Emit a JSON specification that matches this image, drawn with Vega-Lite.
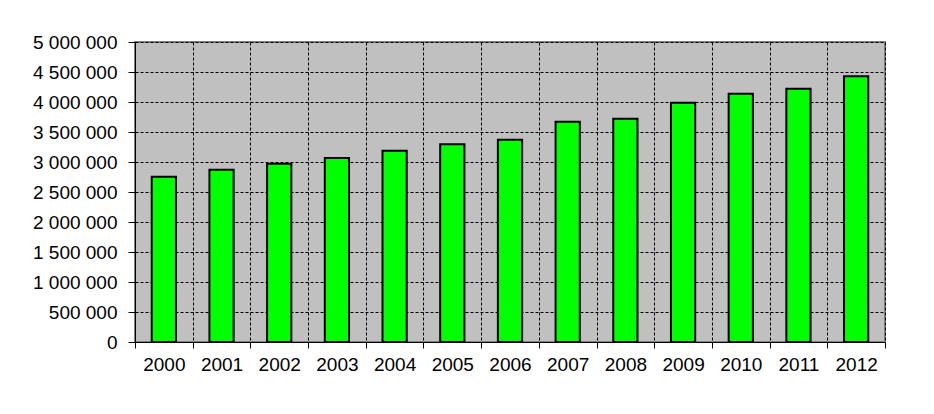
{
  "$schema": "https://vega.github.io/schema/vega-lite/v6.json",
  "width": 750,
  "height": 300,
  "autosize": {"type": "none"},
  "padding": {"left": 135, "top": 42, "right": 49, "bottom": 72},
  "background": "white",
  "config": {
    "font": "Liberation Sans",
    "locale": {"number": {"decimal": ",", "thousands": " ", "grouping": [3], "currency": ["", ""]}},
    "view": {"fill": "#C0C0C0", "stroke": "#808080", "strokeWidth": 2}
  },
  "data": {
    "values": [
      {"year": "2000", "value": 2755000},
      {"year": "2001", "value": 2872000},
      {"year": "2002", "value": 2972000},
      {"year": "2003", "value": 3068000},
      {"year": "2004", "value": 3189000},
      {"year": "2005", "value": 3294000},
      {"year": "2006", "value": 3372000},
      {"year": "2007", "value": 3672000},
      {"year": "2008", "value": 3722000},
      {"year": "2009", "value": 3989000},
      {"year": "2010", "value": 4139000},
      {"year": "2011", "value": 4222000},
      {"year": "2012", "value": 4428000}
    ]
  },
  "mark": {"type": "bar", "color": "#00FF00", "stroke": "black", "strokeWidth": 2, "width": {"band": 0.42}},
  "encoding": {
    "x": {
      "field": "year",
      "type": "ordinal",
      "scale": {"paddingInner": 0, "paddingOuter": 0},
      "axis": {
        "title": null,
        "labelAngle": 0,
        "labelFontSize": 19,
        "labelColor": "black",
        "labelPadding": 7,
        "tickBand": "extent",
        "tickSize": 6,
        "tickColor": "black",
        "domainColor": "black",
        "domainWidth": 1,
        "grid": true,
        "gridColor": "black",
        "gridDash": [3, 2],
        "gridOpacity": 1,
        "gridWidth": 1
      }
    },
    "y": {
      "field": "value",
      "type": "quantitative",
      "scale": {"domain": [0, 5000000], "nice": false},
      "axis": {
        "title": null,
        "values": [0, 500000, 1000000, 1500000, 2000000, 2500000, 3000000, 3500000, 4000000, 4500000, 5000000],
        "format": ",d",
        "labelFontSize": 19,
        "labelColor": "black",
        "labelPadding": 11,
        "tickSize": 7,
        "tickColor": "black",
        "domainColor": "black",
        "grid": true,
        "gridColor": "black",
        "gridDash": [3, 2],
        "gridOpacity": 1,
        "gridWidth": 1
      }
    }
  }
}
